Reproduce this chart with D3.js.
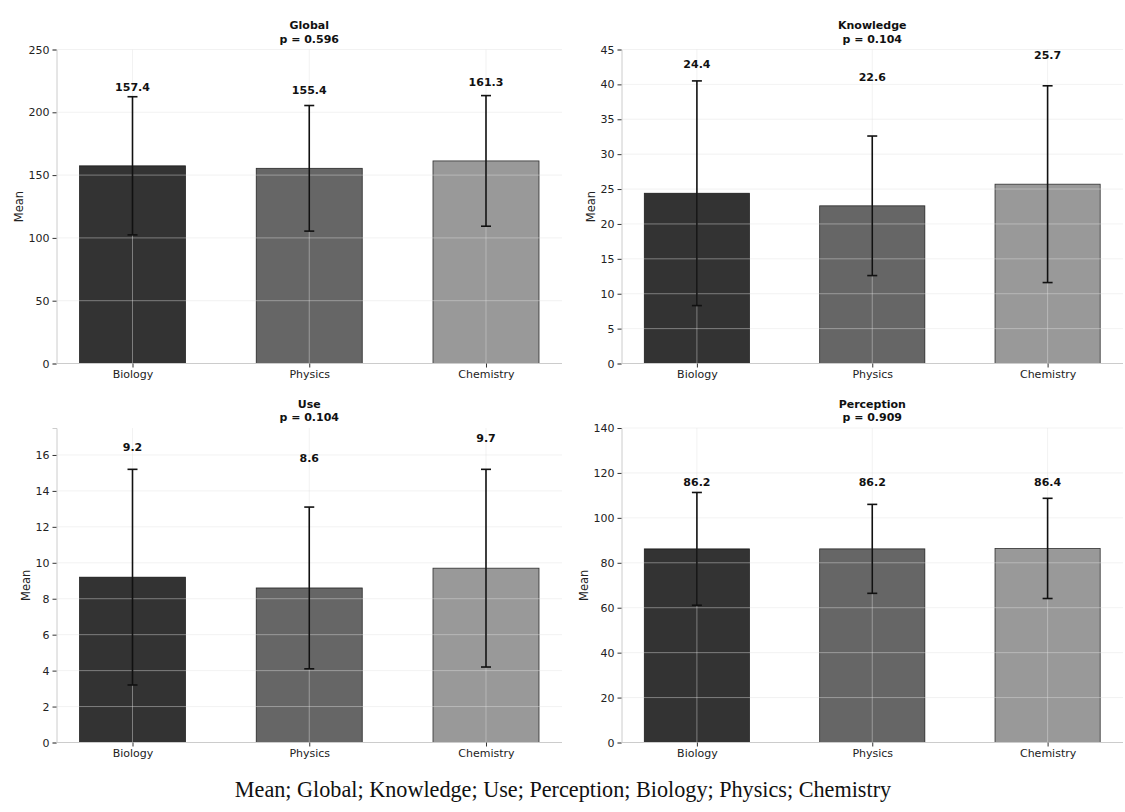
<!DOCTYPE html>
<html>
<head>
<meta charset="utf-8">
<script src="https://cdn.jsdelivr.net/npm/d3@7"></script>
<style>
  html, body { margin: 0; padding: 0; background: #ffffff; }
  svg { display: block; }
</style>
</head>
<body>
<svg id="chart" width="1125" height="812"></svg>
<script>
// ---------- data ----------
const categories = ["Biology", "Physics", "Chemistry"];
const panelNames = ["Global", "Knowledge", "Use", "Perception"];
const pValues = ["0.596", "0.104", "0.104", "0.909"];

const globalMeans = [157.4, 155.4, 161.3];
const globalSD = [55.0, 50.0, 52.0];
const knowledgeMeans = [24.4, 22.6, 25.7];
const knowledgeSD = [16.1, 10.0, 14.1];
const useMeans = [9.2, 8.6, 9.7];
const useSD = [6.0, 4.5, 5.5];
const perceptionMeans = [86.2, 86.2, 86.4];
const perceptionSD = [25.1, 19.8, 22.3];

const yMaxes = [250, 45, 17.5, 140];
const yTickSteps = [50, 5, 2, 20];
const labelOffsets = [62.6, 18.45, 7.25, 29.7]; // value-label offset above the mean, data units

const barColors = ["#333333", "#666666", "#999999"];
const captionText = "Mean; Global; Knowledge; Use; Perception; Biology; Physics; Chemistry";

const seriesMeans = [globalMeans, knowledgeMeans, useMeans, perceptionMeans];
const seriesSD = [globalSD, knowledgeSD, useSD, perceptionSD];

// ---------- layout ----------
const panelBoxes = [
  {x0: 56.5, x1: 562, y0: 49.5, y1: 363.5},
  {x0: 621.5, x1: 1123, y0: 49.5, y1: 363.5},
  {x0: 56.5, x1: 562, y0: 428, y1: 742.5},
  {x0: 621.5, x1: 1123, y0: 428, y1: 742.5}
];

const svg = d3.select("#chart");
const sans = "'DejaVu Sans', sans-serif";

panelNames.forEach((name, pi) => {
  const box = panelBoxes[pi];
  const means = seriesMeans[pi];
  const sds = seriesSD[pi];
  const x = d3.scaleLinear().domain([-0.43, 2.43]).range([box.x0, box.x1]);
  const y = d3.scaleLinear().domain([0, yMaxes[pi]]).range([box.y1, box.y0]);
  const barW = x(0.6) - x(0);
  const ticks = d3.range(0, yMaxes[pi] + 1e-9, yTickSteps[pi]);

  const g = svg.append("g");

  // bars
  g.selectAll("rect.bar").data(categories).join("rect")
    .attr("class", "bar")
    .attr("x", (d, i) => x(i) - barW / 2)
    .attr("width", barW)
    .attr("y", (d, i) => y(means[i]))
    .attr("height", (d, i) => y(0) - y(means[i]))
    .attr("fill", (d, i) => barColors[i])
    .attr("stroke", "#000")
    .attr("stroke-opacity", 0.75)
    .attr("stroke-width", 0.8);

  // grid (drawn above bars, translucent)
  const grid = g.append("g").attr("stroke", "#e0e0e0").attr("stroke-opacity", 0.55).attr("stroke-width", 0.8);
  grid.selectAll("line.h").data(ticks).join("line")
    .attr("x1", box.x0).attr("x2", box.x1)
    .attr("y1", d => y(d)).attr("y2", d => y(d));
  grid.selectAll("line.v").data(categories).join("line")
    .attr("x1", (d, i) => x(i)).attr("x2", (d, i) => x(i))
    .attr("y1", box.y0).attr("y2", box.y1);

  // error bars
  const eb = g.append("g").attr("stroke", "#111").attr("stroke-width", 1.6);
  categories.forEach((c, i) => {
    const lo = y(means[i] - sds[i]), hi = y(means[i] + sds[i]), cx = x(i);
    eb.append("line").attr("x1", cx).attr("x2", cx).attr("y1", lo).attr("y2", hi);
    eb.append("line").attr("x1", cx - 5).attr("x2", cx + 5).attr("y1", lo).attr("y2", lo);
    eb.append("line").attr("x1", cx - 5).attr("x2", cx + 5).attr("y1", hi).attr("y2", hi);
  });

  // value labels
  g.selectAll("text.val").data(categories).join("text")
    .attr("class", "val")
    .attr("x", (d, i) => x(i))
    .attr("y", (d, i) => y(means[i] + labelOffsets[pi]))
    .attr("dy", "0.36em")
    .attr("text-anchor", "middle")
    .attr("font-family", sans).attr("font-weight", "bold").attr("font-size", 11)
    .attr("fill", "#111")
    .text((d, i) => means[i].toFixed(1));

  // y axis
  const yAxisG = g.append("g").attr("transform", `translate(${box.x0},0)`)
    .call(d3.axisLeft(y).tickValues(ticks).tickSize(4).tickPadding(3).tickFormat(d3.format("~g")));
  yAxisG.select(".domain").attr("stroke", "#cccccc");
  yAxisG.selectAll(".tick line").attr("stroke", "#333");
  yAxisG.selectAll(".tick text").attr("font-family", sans).attr("font-size", 11).attr("fill", "#222");

  // x axis
  const xAxisG = g.append("g").attr("transform", `translate(0,${box.y1})`)
    .call(d3.axisBottom(x).tickValues([0, 1, 2]).tickSize(4).tickPadding(3).tickFormat(i => categories[i]));
  xAxisG.select(".domain").attr("stroke", "#cccccc").attr("d", `M${box.x0},0H${box.x1}`);
  xAxisG.selectAll(".tick line").attr("stroke", "#333");
  xAxisG.selectAll(".tick text").attr("font-family", sans).attr("font-size", 11).attr("fill", "#222");

  // y label
  const bb = yAxisG.node().getBBox();
  const lx = box.x0 + bb.x - 10;
  const ly = (box.y0 + box.y1) / 2;
  g.append("text")
    .attr("transform", `translate(${lx},${ly}) rotate(-90)`)
    .attr("dy", "0.36em")
    .attr("text-anchor", "middle")
    .attr("font-family", sans).attr("font-size", 11.5).attr("fill", "#222")
    .text("Mean");

  // title
  const tx = (box.x0 + box.x1) / 2;
  const title = g.append("text")
    .attr("text-anchor", "middle")
    .attr("font-family", sans).attr("font-weight", "bold").attr("font-size", 11).attr("fill", "#111");
  title.append("tspan").attr("x", tx).attr("y", box.y0 - 20.5).text(name);
  title.append("tspan").attr("x", tx).attr("y", box.y0 - 7).text("p = " + pValues[pi]);
});

// caption
svg.append("text")
  .attr("x", 563).attr("y", 797)
  .attr("text-anchor", "middle")
  .attr("font-family", "'Liberation Serif', 'Times New Roman', serif")
  .attr("font-size", 22.2)
  .attr("fill", "#111")
  .text(captionText);
</script>
</body>
</html>
